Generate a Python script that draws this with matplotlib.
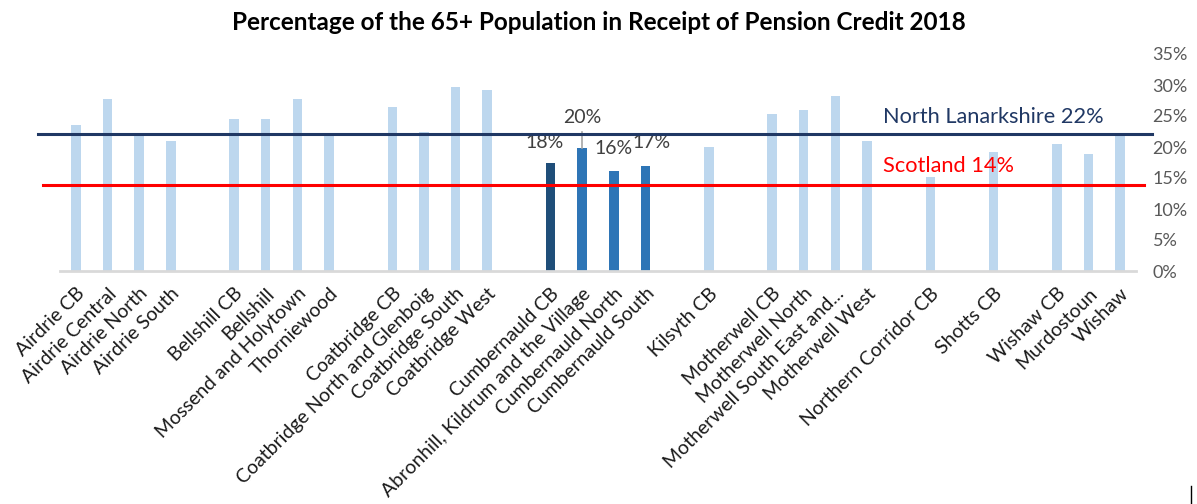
import matplotlib
matplotlib.use("Agg")
import matplotlib.pyplot as plt
from matplotlib.lines import Line2D

plt.rcParams['font.family'] = ['Lato', 'DejaVu Sans']

categories = [
    "Airdrie CB", "Airdrie Central", "Airdrie North", "Airdrie South", "",
    "Bellshill CB", "Bellshill", "Mossend and Holytown", "Thorniewood", "",
    "Coatbridge CB", "Coatbridge North and Glenboig", "Coatbridge South", "Coatbridge West", "",
    "Cumbernauld CB", "Abronhill, Kildrum and the Village", "Cumbernauld North", "Cumbernauld South", "",
    "Kilsyth CB", "",
    "Motherwell CB", "Motherwell North", "Motherwell South East and...", "Motherwell West", "",
    "Northern Corridor CB", "", "Shotts CB", "",
    "Wishaw CB", "Murdostoun", "Wishaw",
]
values = [
    23.5, 27.7, 21.9, 21.0, None,
    24.5, 24.5, 27.7, 21.9, None,
    26.5, 22.4, 29.6, 29.2, None,
    17.5, 19.8, 16.1, 16.9, None,
    20.0, None,
    25.4, 26.0, 28.2, 21.0, None,
    15.2, None, 19.2, None,
    20.5, 18.8, 21.9,
]
highlight_labels = {15: "18%", 16: "20%", 17: "16%", 18: "17%"}
north_lanarkshire = 22.0
scotland = 13.9
y_ticks = [0, 5, 10, 15, 20, 25, 30, 35]

LIGHT = "#BDD7EE"
MID = "#2E75B6"
DARK = "#1F4E79"

fig = plt.figure(figsize=(11.97, 5.04), dpi=100)
ax = fig.add_axes([60/1197, 1-271/504, (1136-60)/1197, (271-54)/504])

xs = list(range(len(categories)))
for i, v in enumerate(values):
    if v is None:
        continue
    if i == 15:
        c = DARK
    elif i in highlight_labels:
        c = MID
    else:
        c = LIGHT
    ax.bar(i, v, width=0.3, color=c, zorder=2)

ax.set_xlim(-0.5, len(categories) - 0.5)
ax.set_ylim(0, 35)
ax.yaxis.tick_right()
ax.set_yticks(y_ticks)
ax.set_yticklabels([f"{t}%" for t in y_ticks], fontsize=13, color="#595959")
ax.tick_params(axis='y', length=0, pad=12)
ax.set_xticks(xs)
ax.set_xticklabels(categories, rotation=45, ha='right', rotation_mode='anchor',
                   fontsize=14, color="#1a1a1a")
ax.tick_params(axis='x', length=0, pad=10)
for s in ['top', 'left', 'right']:
    ax.spines[s].set_visible(False)
ax.spines['bottom'].set_color("#D9D9D9")
ax.spines['bottom'].set_linewidth(2)

# data labels
label_pos = {15: (-0.2, 20.7), 16: (0.0, 24.8), 17: (0.0, 19.7), 18: (0.2, 20.7)}
for i, txt in highlight_labels.items():
    dx, yy = label_pos[i]
    ax.text(i + dx, yy, txt, ha='center', va='center', fontsize=14, color="#404040")
ax.plot([16, 16], [values[16] + 0.1, 22.4], color="#A6A6A6", lw=1.2, zorder=3)

# reference lines (span beyond axes)
def to_fig_x(px):
    return px / 1197
def to_fig_y(py):
    return 1 - py / 504

fig.add_artist(Line2D([to_fig_x(38), to_fig_x(1152)], [to_fig_y(134.3)] * 2,
                      color="#203864", lw=2.2))
fig.add_artist(Line2D([to_fig_x(43), to_fig_x(1144)], [to_fig_y(184.7)] * 2,
                      color="#FF0000", lw=2.2))
fig.text(to_fig_x(883), to_fig_y(117), f"North Lanarkshire {north_lanarkshire:.0f}%",
         fontsize=15.7, color="#203864", va='center', ha='left')
fig.text(to_fig_x(883), to_fig_y(165.5), f"Scotland {scotland:.0f}%",
         fontsize=15.7, color="#FF0000", va='center', ha='left')

fig.text(599/1197, 1 - 22/504, "Percentage of the 65+ Population in Receipt of Pension Credit 2018",
         fontsize=17.5, fontweight='bold', ha='center', va='center', color="#000000")

fig.add_artist(Line2D([to_fig_x(1191)] * 2, [to_fig_y(486), to_fig_y(504)], color="black", lw=1))

fig.savefig("out.png", dpi=100)
